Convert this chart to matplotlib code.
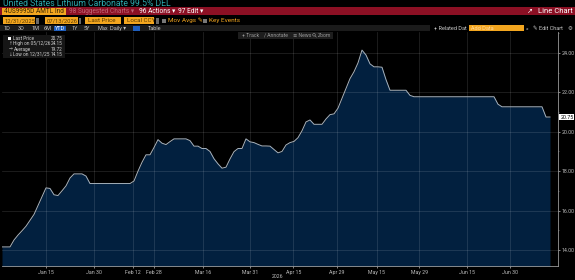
import matplotlib
matplotlib.use('Agg')
import matplotlib.pyplot as plt
from matplotlib.patches import Rectangle, Ellipse
from matplotlib.lines import Line2D
from matplotlib.ticker import MultipleLocator, FormatStrFormatter

plt.rcParams['font.family'] = ['Roboto', 'DejaVu Sans']

# --- Data (daily last price) ---
prices = [
    14.15, 14.15, 14.15, 14.50, 14.75, 14.97, 15.20, 15.50, 15.80, 16.25,
    16.70, 17.15, 17.12, 16.80, 16.76, 17.00, 17.25, 17.65, 17.86, 17.86,
    17.86, 17.75, 17.37, 17.37, 17.37, 17.37, 17.37, 17.37, 17.37, 17.37,
    17.37, 17.37, 17.37, 17.50, 18.00, 18.45, 18.83, 18.83, 19.20, 19.60,
    19.42, 19.35, 19.50, 19.64, 19.64, 19.64, 19.64, 19.55, 19.27, 19.27,
    19.15, 19.15, 19.00, 18.63, 18.37, 18.15, 18.20, 18.62, 18.99, 19.15,
    19.15, 19.64, 19.49, 19.45, 19.36, 19.28, 19.28, 19.27, 19.10, 18.93,
    19.00, 19.33, 19.45, 19.51, 19.70, 20.05, 20.50, 20.60, 20.38, 20.38,
    20.38, 20.65, 20.87, 20.91, 21.20, 21.70, 22.20, 22.70, 23.05, 23.50,
    24.15, 23.90, 23.45, 23.30, 23.30, 23.28, 22.65, 22.11, 22.11, 22.11,
    22.11, 22.11, 21.85, 21.78, 21.78, 21.78, 21.78, 21.78, 21.78, 21.78,
    21.78, 21.78, 21.78, 21.78, 21.78, 21.78, 21.78, 21.78, 21.78, 21.78,
    21.78, 21.78, 21.78, 21.78, 21.40, 21.27, 21.27, 21.27, 21.27, 21.27,
    21.27, 21.27, 21.27, 21.27, 21.27, 21.27, 20.75, 20.75,
]
tick_index = [11, 23, 32.75, 38, 50.2, 62, 72.8, 83.75, 93.7, 104.3, 116.3, 127]
tick_labels = ['Jan 15', 'Jan 30', 'Feb 12', 'Feb 28', 'Mar 16', 'Mar 31',
               'Apr 15', 'Apr 29', 'May 15', 'May 29', 'Jun 15', 'Jun 30']
legend_rows = [('Last Price', '20.75'), ('High on 05/12/26', '24.15'),
               ('Average', '19.72'), ('Low on 12/31/25', '14.15')]
last_price = 20.75

W, H = 575, 280
fig = plt.figure(figsize=(W / 100, H / 100), dpi=100, facecolor='black')


def fx(x):
    return x / W


def fy(y):
    return 1 - y / H


def box(x0, y0, x1, y1, color):
    fig.add_artist(Rectangle((fx(x0), fy(y1)), (x1 - x0) / W, (y1 - y0) / H,
                             transform=fig.transFigure, color=color, lw=0))


def txt(x, y, s, size=4.2, color='#c8c8c8', ha='left', **kw):
    fig.text(fx(x), fy(y), s, fontsize=size, color=color, ha=ha, va='center', **kw)


ORANGE = '#f3a61f'

# --- Header rows ---
txt(3, 3.7, 'United States Lithium Carbonate 99.5% DEL', size=6.2, color='#2ba6ab')

box(0, 7.3, W, 15.2, '#8c1024')
box(2, 7.8, 66, 14.8, ORANGE)
txt(4, 11.3, '4US9995D AMTL Ind', size=4.7, color='#3a2600')
txt(69, 11.3, '98 Suggested Charts \u25be', size=4.7, color='#c06475')
txt(139, 11.3, '96 Actions \u25be', size=4.8, color='white')
txt(178, 11.3, '97 Edit \u25be', size=4.8, color='white')
txt(527, 11.3, '\u2197', size=5.0, color='white')
txt(538, 11.3, 'Line Chart', size=5.5, color='white')

box(3, 17.3, 35, 24, ORANGE)
txt(4.5, 20.6, '12/31/2025', size=4.2, color='#5a3a00')
box(35.5, 17.8, 38.5, 23.5, '#6a6a6a')
box(45, 17.3, 78, 24, ORANGE)
txt(46.5, 20.6, '07/13/2026', size=4.2, color='#5a3a00')
box(78.5, 17.8, 81.5, 23.5, '#6a6a6a')
box(85, 17.3, 121, 24, ORANGE)
txt(88, 20.6, 'Last Price', size=4.5, color='#5a3a00')
box(124, 17.3, 154, 24, ORANGE)
txt(127, 20.6, 'Local CCY', size=4.5, color='#5a3a00')
box(155.5, 17.8, 158.5, 23.5, '#6a6a6a')
box(162, 18.6, 166, 22.6, '#777777')
txt(168, 20.6, 'Mov Avgs \u270e', size=4.6, color=ORANGE)
box(203, 18.6, 207, 22.6, '#777777')
txt(209, 20.6, 'Key Events', size=4.6, color=ORANGE)

box(0, 25.3, 430, 31.3, '#1b1b1b')
for x, s in [(4, '1D'), (18, '3D'), (31, '1M'), (44, '6M'), (71, '1Y'),
             (84, '5Y'), (98, 'Max'), (110, 'Daily \u25be'), (148, 'Table')]:
    txt(x, 28.3, s, size=4.0)
box(53.5, 25.8, 66, 30.8, '#1f5fbf')
txt(59.8, 28.3, 'YTD', size=4.0, color='white', ha='center')
box(133, 26, 139.5, 30.6, '#1f5fbf')
txt(434, 28.3, '+ Related Dat', size=4.0)
box(468.5, 25.5, 523.5, 31, ORANGE)
txt(471, 28.3, 'Add Data', size=4.0, color='#ffd9a0')
txt(526, 28.3, '\u00ab', size=4.0)
txt(533, 28.3, '\u270e Edit Chart', size=4.0)
txt(567.5, 28.3, '\u2699', size=4.0)

# --- Chart ---
ax = fig.add_axes([fx(2), fy(266), (558 - 2) / W, (266 - 32) / H])
ax.set_facecolor('black')
x = list(range(len(prices)))
ax.fill_between(x, prices, 10, color='#02203f', lw=0, zorder=1)
ax.plot(x, prices, color='#a8b3be', lw=0.7, zorder=3)
ax.set_xlim(0, 139)
ax.set_ylim(13.18, 25.07)

ax.yaxis.tick_right()
ax.yaxis.set_major_locator(MultipleLocator(2))
ax.yaxis.set_minor_locator(MultipleLocator(1))
ax.yaxis.set_major_formatter(FormatStrFormatter('%.2f'))
ax.set_xticks(tick_index)
ax.set_xticklabels(tick_labels)
ax.tick_params(colors='#bdbdbd', labelsize=3.8, length=1.6, width=0.5, pad=1.0)
ax.tick_params(which='minor', colors='#888888', length=1.0, width=0.4)
ax.grid(True, color='white', alpha=0.13, lw=0.6, zorder=2)
for side in ['top', 'left']:
    ax.spines[side].set_visible(False)
ax.spines['right'].set_color('#9a9a9a')
ax.spines['bottom'].set_color('#9a9a9a')
ax.spines['right'].set_linewidth(0.6)
ax.spines['bottom'].set_linewidth(0.6)

ax.annotate(f'{last_price:.2f}', xy=(1.0, last_price), xycoords=('axes fraction', 'data'),
            xytext=(1.6, 0), textcoords='offset points', fontsize=3.8, color='black',
            va='center', ha='left',
            bbox=dict(boxstyle='square,pad=0.15', fc='white', ec='none'))
txt(278, 276.5, '2026', size=3.7, color='#bdbdbd', ha='center')

# --- Legend box ---
box(3, 35, 65, 58, '#161616')
box(8, 36.6, 11.4, 40, 'white')
syms = ['', '\u2191', '\u2192', '\u2193']
for i, (lab, val) in enumerate(legend_rows):
    y = 38.3 + i * 5.4
    if syms[i]:
        txt(8.5, y, syms[i], size=3.3, color='#bbbbbb')
    txt(13.5, y, lab, size=3.4, color='#d0d0d0')
    txt(51, y, val, size=3.4, color='#d0d0d0')

# --- Track toolbar ---
box(238, 32, 333, 38.5, '#1d1d1d')
txt(242, 35.2, '+ Track    \u2215 Annotate    \u2261 News', size=3.7, color='#9a9a9a')
fig.add_artist(Ellipse((fx(314), fy(34.8)), 2.6 / W, 2.6 / H, transform=fig.transFigure,
                       fill=False, ec='#9a9a9a', lw=0.4))
fig.add_artist(Line2D([fx(315), fx(316.3)], [fy(35.9), fy(37.1)], transform=fig.transFigure,
                      color='#9a9a9a', lw=0.4))
txt(318, 35.2, 'Zoom', size=3.7, color='#9a9a9a')

plt.savefig('out.png', dpi=100, facecolor='black')
